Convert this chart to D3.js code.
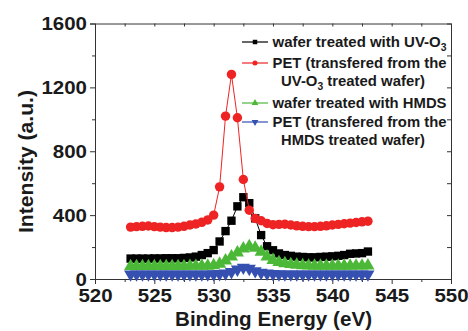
<!DOCTYPE html>
<html>
<head>
<meta charset="utf-8">
<script src="https://cdn.jsdelivr.net/npm/d3@7"></script>
<style>
  body { margin: 0; background: #fff; }
  text { font-family: "Liberation Sans", Arial, sans-serif; font-weight: bold; fill: #1a1a1a; }
</style>
</head>
<body>
<div id="chart"></div>
<script>
var energy = [523, 523.5, 524, 524.5, 525, 525.5, 526, 526.5, 527, 527.5, 528, 528.5, 529, 529.5,
  530, 530.5, 531, 531.5, 532, 532.5, 533, 533.5, 534, 534.5, 535, 535.5, 536, 536.5, 537, 537.5,
  538, 538.5, 539, 539.5, 540, 540.5, 541, 541.5, 542, 542.5, 543]

var waferUV = [128, 128, 128, 128, 129, 129, 130, 130, 130, 132, 135, 140, 150, 162,
  181, 235, 300, 365, 455, 512, 475, 380, 275, 205, 180, 160, 150, 145, 140, 138,
  136, 136, 138, 140, 142, 145, 150, 158, 160, 162, 172]

var petUV = [325, 328, 330, 332, 328, 325, 322, 322, 325, 330, 338, 345, 355, 370,
  400, 577, 1020, 1281, 1010, 623, 431, 379, 365, 348, 340, 342, 343, 338, 333, 330,
  328, 328, 330, 333, 338, 342, 346, 350, 354, 358, 362]

var waferHMDS = [80, 80, 80, 80, 80, 80, 80, 80, 80, 80, 81, 81, 82, 82,
  85, 95, 115, 140, 165, 190, 205, 195, 170, 140, 118, 105, 98, 92, 88, 85,
  83, 82, 82, 82, 82, 82, 82, 82, 83, 83, 84]

var petHMDS = [30, 30, 30, 30, 30, 30, 30, 30, 30, 30, 30, 30, 30, 30,
  31, 32, 35, 45, 60, 72, 65, 50, 40, 35, 32, 31, 30, 30, 30, 30,
  30, 30, 30, 30, 30, 30, 30, 30, 30, 30, 30]

var xTicks = [520, 525, 530, 535, 540, 545, 550]
var yTicks = [0, 400, 800, 1200, 1600]

var width = 468, height = 331
var margin = {top: 23.5, right: 17, bottom: 52, left: 95}
var plotW = width - margin.left - margin.right
var plotH = height - margin.top - margin.bottom

var x = d3.scaleLinear().domain([520, 550]).range([0, plotW])
var y = d3.scaleLinear().domain([0, 1600]).range([plotH, 0])

var svg = d3.select("#chart").append("svg")
  .attr("width", width)
  .attr("height", height)

var g = svg.append("g")
  .attr("transform", "translate(" + margin.left + "," + margin.top + ")")

// minor ticks every 2.5 eV and 200 a.u.
var xMinor = d3.range(522.5, 550, 5)
var yMinor = d3.range(200, 1600, 400)

function styleAxis(sel) {
  sel.select(".domain").attr("stroke", "#333").attr("stroke-width", 1)
  sel.selectAll(".tick line").attr("stroke", "#333")
}

// figure text looks horizontally stretched, so labels get a fixed width per digit
function tickText(sel) {
  sel.selectAll("text")
    .attr("font-size", 19)
    .attr("fill", "#1a1a1a")
    .attr("textLength", function() { return this.textContent.length * 11.4 })
    .attr("lengthAdjust", "spacingAndGlyphs")
    .style("font-family", "Liberation Sans, Arial")
    .style("font-weight", "bold")
}

g.append("g").attr("transform", "translate(0," + plotH + ")")
  .call(d3.axisBottom(x).tickValues(xTicks).tickSize(5).tickPadding(5).tickFormat(d3.format("d")))
  .call(styleAxis)
  .call(tickText)

g.append("g").attr("transform", "translate(0," + plotH + ")")
  .call(d3.axisBottom(x).tickValues(xMinor).tickSize(3).tickFormat(""))
  .call(styleAxis).select(".domain").remove()

g.append("g")
  .call(d3.axisLeft(y).tickValues(yTicks).tickSize(5).tickPadding(3).tickFormat(d3.format("d")))
  .call(styleAxis)
  .call(tickText)

g.append("g")
  .call(d3.axisLeft(y).tickValues(yMinor).tickSize(3).tickFormat(""))
  .call(styleAxis).select(".domain").remove()

// mirrored top and right axes, ticks inward
g.append("g")
  .call(d3.axisBottom(x).tickValues(xTicks.concat(xMinor)).tickSizeInner(3).tickSizeOuter(0).tickFormat(""))
  .call(styleAxis)

g.append("g").attr("transform", "translate(" + plotW + ",0)")
  .call(d3.axisLeft(y).tickValues(yTicks.concat(yMinor)).tickSizeInner(-4).tickSizeOuter(0).tickFormat(""))
  .call(s => s.selectAll(".tick line").attr("x2", -4))
  .call(styleAxis)

var series = [
  {values: waferUV, color: "#000000", symbol: d3.symbolSquare, size: 70, rotate: 0},
  {values: petUV, color: "#ee2424", symbol: d3.symbolCircle, size: 70, rotate: 0},
  {values: waferHMDS, color: "#4cb838", symbol: d3.symbolTriangle, size: 75, rotate: 0},
  {values: petHMDS, color: "#3550b0", symbol: d3.symbolTriangle, size: 75, rotate: 180}
]

var line = d3.line()
  .x((d, i) => x(energy[i]))
  .y(d => y(d))

series.forEach(function(s) {
  var sg = g.append("g")
  sg.append("path")
    .datum(s.values)
    .attr("fill", "none")
    .attr("stroke", s.color)
    .attr("stroke-width", 1)
    .attr("d", line)
  sg.selectAll("path.pt")
    .data(s.values)
    .enter().append("path")
    .attr("class", "pt")
    .attr("d", d3.symbol().type(s.symbol).size(s.size))
    .attr("fill", s.color)
    .attr("transform", (d, i) => "translate(" + x(energy[i]) + "," + y(d) + ") rotate(" + s.rotate + ")")
})

// legend
var legend = svg.append("g")
var items = [
  {s: series[0], y: 42, lines: [["wafer treated with UV-O", "3", ""]]},
  {s: series[1], y: 63, lines: [["PET (transfered from the", "", ""], ["UV-O", "3", " treated wafer)"]]},
  {s: series[2], y: 103, lines: [["wafer treated with HMDS", "", ""]]},
  {s: series[3], y: 122, lines: [["PET (transfered from the", "", ""], ["HMDS treated wafer)", "", ""]]}
]

items.forEach(function(it) {
  legend.append("line")
    .attr("x1", 242).attr("x2", 268)
    .attr("y1", it.y).attr("y2", it.y)
    .attr("stroke", it.s.color).attr("stroke-width", 1.2)
  legend.append("path")
    .attr("d", d3.symbol().type(it.s.symbol).size(20))
    .attr("fill", it.s.color)
    .attr("transform", "translate(255," + it.y + ") rotate(" + it.s.rotate + ")")
  it.lines.forEach(function(l, k) {
    var t = legend.append("text")
      .attr("x", k === 0 ? 272.5 : 281)
      .attr("y", it.y + k * 18 + 5)
      .attr("font-size", 14.5)
      .attr("textLength", k === 0 ? 174 : 144)
      .attr("lengthAdjust", "spacingAndGlyphs")
    t.append("tspan").text(l[0])
    if (l[1]) {
      t.append("tspan").attr("font-size", 10).attr("dy", 4).text(l[1])
      t.append("tspan").attr("dy", -4).text(l[2])
    }
  })
})

// axis titles
svg.append("text")
  .attr("x", 175)
  .attr("y", 326)
  .attr("font-size", 20)
  .attr("textLength", 197)
  .attr("lengthAdjust", "spacingAndGlyphs")
  .text("Binding Energy (eV)")

svg.append("text")
  .attr("transform", "translate(33,233) rotate(-90)")
  .attr("font-size", 21)
  .attr("textLength", 143)
  .attr("lengthAdjust", "spacingAndGlyphs")
  .text("Intensity (a.u.)")
</script>
</body>
</html>
